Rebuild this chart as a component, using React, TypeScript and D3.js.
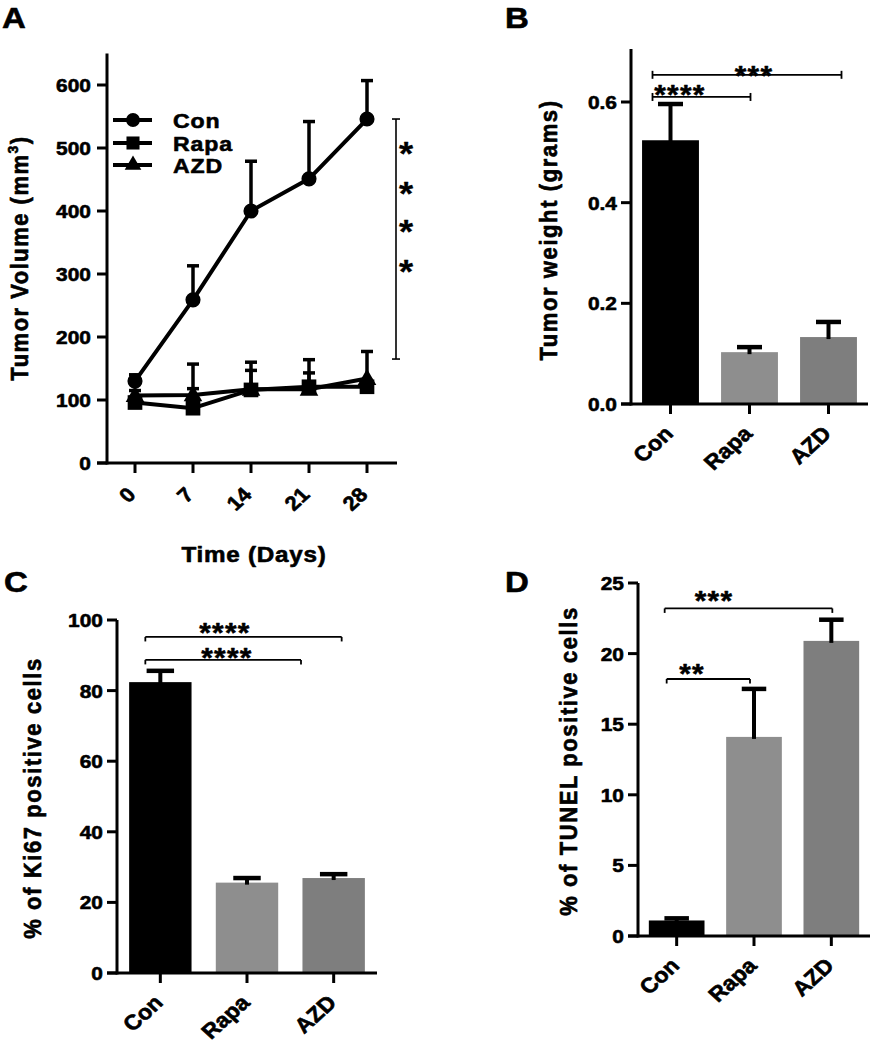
import React from "react";
import * as d3 from "d3";

// ---------- Data ----------
const days = [0, 7, 14, 21, 28];
const conVolume = [130, 259, 400, 451, 546];
const conVolumeSem = [10, 54, 79, 91, 61];
const rapaVolume = [96, 87, 116, 121, 121];
const rapaVolumeSem = [8, 31, 31, 22, 10];
const azdVolume = [107, 108, 117, 117, 134];
const azdVolumeSem = [8, 49, 43, 47, 43];
const volumeTicks = [0, 100, 200, 300, 400, 500, 600];

const groups = ["Con", "Rapa", "AZD"];
const groupColors = ["#000000", "#8e8e8e", "#7e7e7e"];

const weight = [0.524, 0.103, 0.133];
const weightSem = [0.072, 0.01, 0.03];
const weightTicks = [0, 0.2, 0.4, 0.6];

const ki67 = [82.4, 25.6, 26.9];
const ki67Sem = [3.2, 1.3, 1.1];
const ki67Ticks = [0, 20, 40, 60, 80, 100];

const tunel = [1.1, 14.1, 20.9];
const tunelSem = [0.15, 3.4, 1.5];
const tunelTicks = [0, 5, 10, 15, 20, 25];

const FONT = "'Liberation Sans', Arial, Helvetica, sans-serif";
const SX = 1.1;

function T({ x, y, rot = 0, anchor = "start", fs = 19, bold = true, ls = 0, sw = 0.6, children }: any) {
  return (
    <text
      transform={`translate(${x},${y}) scale(${SX},1) rotate(${rot})`}
      textAnchor={anchor}
      fontSize={fs}
      fontWeight={bold ? "bold" : "normal"}
      letterSpacing={ls}
      fontFamily={FONT}
      fill="#000"
      stroke="#000"
      strokeWidth={sw}
      strokeLinejoin="round"
    >
      {children}
    </text>
  );
}

function Stars({ cx, top, n, fs = 27 }: any) {
  return (
    <T x={cx} y={top + fs * 0.73} anchor="middle" fs={fs} bold={true} ls={1.2} sw={0.5}>
      {"*".repeat(n)}
    </T>
  );
}

// ---------- Panel A ----------
function PanelA() {
  const x = d3.scaleLinear().domain([0, 28]).range([135, 367]);
  const y = d3.scaleLinear().domain([0, 650]).range([463, 463 - 650 * 0.63]);
  const axisX = 107;
  const axisRight = 397;
  const line = d3
    .line<number>()
    .x((_, i) => x(days[i]))
    .y((d) => y(d));
  const series = [
    { name: "AZD", m: azdVolume, s: azdVolumeSem, sym: d3.symbolTriangle, size: 150 },
    { name: "Rapa", m: rapaVolume, s: rapaVolumeSem, sym: d3.symbolSquare, size: 215 },
    { name: "Con", m: conVolume, s: conVolumeSem, sym: d3.symbolCircle, size: 180 },
  ];
  const legend = [
    { name: "Con", sym: d3.symbolCircle, size: 150, ly: 120 },
    { name: "Rapa", sym: d3.symbolSquare, size: 170, ly: 143 },
    { name: "AZD", sym: d3.symbolTriangle, size: 120, ly: 165 },
  ];
  return (
    <g>
      <T x={2} y={28} fs={30}>A</T>
      {/* axes */}
      <line x1={axisX} x2={axisX} y1={y(650)} y2={y(0) + 1.5} stroke="#000" strokeWidth={3} />
      <line x1={axisX - 10} x2={axisRight} y1={y(0)} y2={y(0)} stroke="#000" strokeWidth={3} />
      {volumeTicks.map((t) => (
        <g key={t}>
          <line x1={axisX - 10} x2={axisX} y1={y(t)} y2={y(t)} stroke="#000" strokeWidth={3} />
          <T x={axisX - 16} y={y(t) + 7} anchor="end" fs={19}>{t}</T>
        </g>
      ))}
      {days.map((d) => (
        <g key={d}>
          <line x1={x(d)} x2={x(d)} y1={y(0)} y2={y(0) + 10} stroke="#000" strokeWidth={3} />
          <T x={x(d) + 2} y={496} anchor="end" rot={-45} fs={20}>{d}</T>
        </g>
      ))}
      <T x={254} y={562} anchor="middle" fs={22} ls={0.7}>Time (Days)</T>
      <T x={28} y={258} anchor="middle" rot={-90} fs={22} ls={1.5}>
        Tumor Volume (mm<tspan dy={-9} fontSize={14}>3</tspan><tspan dy={9}>)</tspan>
      </T>
      {/* series */}
      {series.map((sr) => (
        <g key={sr.name}>
          {sr.m.map((v, i) => (
            <g key={i}>
              <line x1={x(days[i])} x2={x(days[i])} y1={y(v)} y2={y(v + sr.s[i])} stroke="#000" strokeWidth={3.5} />
              <line x1={x(days[i]) - 6} x2={x(days[i]) + 6} y1={y(v + sr.s[i])} y2={y(v + sr.s[i])} stroke="#000" strokeWidth={3.5} />
            </g>
          ))}
        </g>
      ))}
      {series.map((sr) => (
        <g key={sr.name + "l"}>
          <path d={line(sr.m) || ""} fill="none" stroke="#000" strokeWidth={4} strokeLinejoin="round" />
          {sr.m.map((v, i) => (
            <path
              key={i}
              d={d3.symbol().type(sr.sym).size(sr.size)() || ""}
              transform={`translate(${x(days[i])},${y(v) + (sr.sym === d3.symbolTriangle ? 1 : 0)})`}
              fill="#000"
            />
          ))}
        </g>
      ))}
      {/* legend */}
      {legend.map((l) => (
        <g key={l.name}>
          <line x1={113} x2={152} y1={l.ly} y2={l.ly} stroke="#000" strokeWidth={4} />
          <path d={d3.symbol().type(l.sym).size(l.size)() || ""} transform={`translate(133,${l.ly})`} fill="#000" />
          <T x={173} y={l.ly + 8} fs={21} ls={0.8}>{l.name}</T>
        </g>
      ))}
      {/* significance */}
      <line x1={396} x2={396} y1={y(546)} y2={y(165)} stroke="#000" strokeWidth={1.6} />
      <line x1={392} x2={400} y1={y(546)} y2={y(546)} stroke="#000" strokeWidth={1.6} />
      <line x1={392} x2={400} y1={y(165)} y2={y(165)} stroke="#000" strokeWidth={1.6} />
      {[140, 180, 218, 258].map((t) => (
        <T key={t} x={406} y={t + 25} anchor="middle" fs={33} bold={true} sw={0.3}>*</T>
      ))}
    </g>
  );
}

// ---------- Bar panels ----------
function BarPanel({
  letter, letterX, letterY, axisX, axisRight, y0, yTopPx, domain, values, sems, ticks, fmt,
  ylabel, ylabelX, ylabelY, brackets, bracketStyle,
}: any) {
  const yScale = d3.scaleLinear().domain([0, domain[1]]).range([y0, domain[2]]);
  const xb = d3.scaleBand().domain(groups).range([axisX, axisRight]).paddingInner(0.28).paddingOuter(0.14);
  const bw = xb.bandwidth();
  return (
    <g>
      <T x={letterX} y={letterY} fs={30}>{letter}</T>
      {groups.map((g, i) => {
        const cx = (xb(g) as number) + bw / 2;
        const top = yScale(values[i]);
        const et = yScale(values[i] + sems[i]);
        const cw = bw * 0.44;
        return (
          <g key={g}>
            <rect x={xb(g)} y={top} width={bw} height={y0 - top} fill={groupColors[i]} />
            <line x1={cx} x2={cx} y1={top + 2} y2={et} stroke="#000" strokeWidth={4} />
            <line x1={cx - cw / 2} x2={cx + cw / 2} y1={et} y2={et} stroke="#000" strokeWidth={4.5} />
          </g>
        );
      })}
      <line x1={axisX} x2={axisX} y1={yTopPx} y2={y0 + 1.5} stroke="#000" strokeWidth={3} />
      <line x1={axisX - 10} x2={axisRight} y1={y0} y2={y0} stroke="#000" strokeWidth={3} />
      {ticks.map((t: number) => (
        <g key={t}>
          <line x1={axisX - 10} x2={axisX} y1={yScale(t)} y2={yScale(t)} stroke="#000" strokeWidth={3} />
          <T x={axisX - 14} y={yScale(t) + 7} anchor="end" fs={19}>{fmt(t)}</T>
        </g>
      ))}
      {groups.map((g) => {
        const cx = (xb(g) as number) + bw / 2;
        return (
          <g key={g + "t"}>
            <line x1={cx} x2={cx} y1={y0} y2={y0 + 10} stroke="#000" strokeWidth={3} />
            <T x={cx + 4} y={y0 + 31} anchor="end" rot={-45} fs={21}>{g}</T>
          </g>
        );
      })}
      <T x={ylabelX} y={ylabelY} anchor="middle" rot={-90} fs={22} ls={1.6}>{ylabel}</T>
      {brackets.map((b: any, k: number) => {
        const x1 = (xb(groups[b.from]) as number) + bw / 2 + b.dl;
        const x2 = (xb(groups[b.to]) as number) + bw / 2 + b.dr;
        const yy = yScale(b.level);
        return (
          <g key={k}>
            <line x1={x1} x2={x2} y1={yy} y2={yy} stroke="#000" strokeWidth={1.8} />
            {bracketStyle === "both" ? (
              <>
                <line x1={x1} x2={x1} y1={yy - 4} y2={yy + 4} stroke="#000" strokeWidth={1.8} />
                <line x1={x2} x2={x2} y1={yy - 4} y2={yy + 4} stroke="#000" strokeWidth={1.8} />
              </>
            ) : (
              <>
                <line x1={x1} x2={x1} y1={yy} y2={yy + 4.5} stroke="#000" strokeWidth={1.8} />
                <line x1={x2} x2={x2} y1={yy} y2={yy + 4.5} stroke="#000" strokeWidth={1.8} />
              </>
            )}
            <Stars cx={b.sx} top={b.stop} n={b.n} />
          </g>
        );
      })}
    </g>
  );
}

export default function App() {
  return (
    <svg
      width={873}
      height={1050}
      viewBox="0 0 873 1050"
      style={{ position: "absolute", left: 0, top: 0, background: "#fff" }}
    >
      <rect width={873} height={1050} fill="#fff" />
      <PanelA />
      <BarPanel
        letter="B" letterX={505} letterY={28}
        axisX={631} axisRight={868} y0={404} yTopPx={49}
        domain={[0, 0.6, 102]} values={weight} sems={weightSem} ticks={weightTicks}
        fmt={(t: number) => t.toFixed(1)}
        ylabel="Tumor weight (grams)" ylabelX={557} ylabelY={230}
        bracketStyle="both"
        brackets={[
          { from: 0, to: 1, dl: -18, dr: 1, level: 0.61, n: 4, sx: 680, stop: 84 },
          { from: 0, to: 2, dl: -18, dr: 13, level: 0.654, n: 3, sx: 754, stop: 65 },
        ]}
      />
      <BarPanel
        letter="C" letterX={4} letterY={592}
        axisX={117} axisRight={377} y0={973} yTopPx={620}
        domain={[0, 100, 620]} values={ki67} sems={ki67Sem} ticks={ki67Ticks}
        fmt={(t: number) => String(t)}
        ylabel="% of Ki67 positive cells" ylabelX={41} ylabelY={798}
        bracketStyle="down"
        brackets={[
          { from: 0, to: 2, dl: -15, dr: 8, level: 95.2, n: 4, sx: 225, stop: 622 },
          { from: 0, to: 1, dl: -15, dr: 54, level: 88.7, n: 4, sx: 227, stop: 647 },
        ]}
      />
      <BarPanel
        letter="D" letterX={505} letterY={592}
        axisX={638} axisRight={870} y0={936} yTopPx={583}
        domain={[0, 25, 583]} values={tunel} sems={tunelSem} ticks={tunelTicks}
        fmt={(t: number) => String(t)}
        ylabel="% of TUNEL positive cells" ylabelX={577} ylabelY={761}
        bracketStyle="down"
        brackets={[
          { from: 0, to: 2, dl: -12, dr: 1, level: 23.2, n: 3, sx: 714, stop: 590 },
          { from: 0, to: 1, dl: -10, dr: -4, level: 18.2, n: 2, sx: 692, stop: 663 },
        ]}
      />
    </svg>
  );
}
